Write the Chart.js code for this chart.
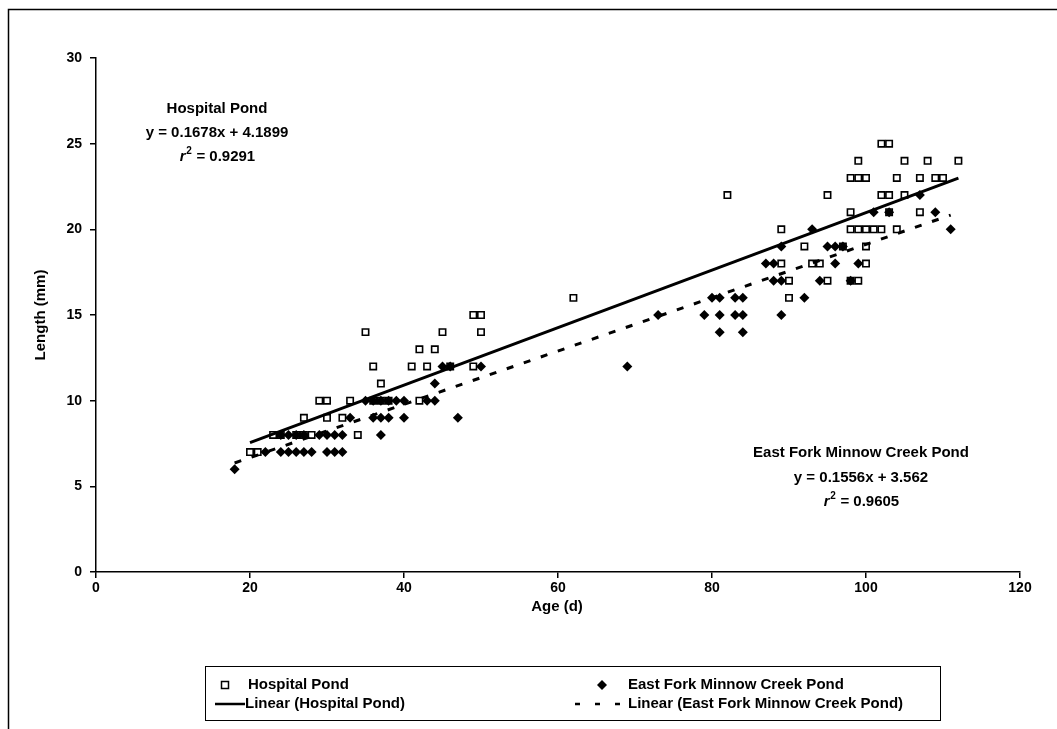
<!DOCTYPE html>
<html>
<head>
<meta charset="utf-8">
<script src="https://cdn.jsdelivr.net/npm/chart.js@4"></script>
<style>
  html, body { margin: 0; padding: 0; background: #fff; }
  #wrap { position: relative; width: 1057px; height: 729px; }
</style>
</head>
<body>
<div id="wrap"><canvas id="ageLength" width="1057" height="729"></canvas></div>
<script>
// Hospital Pond: age (d), length (mm)
const hospitalAge = [20, 21, 23, 24, 26, 27, 28, 27, 29, 30, 30, 32, 33, 34, 35, 36, 37, 36, 37, 38,
  41, 42, 42, 43, 44, 45, 46, 49, 49, 50, 50, 62, 82, 89, 89, 90, 90, 92, 93, 94,
  95, 95, 97, 98, 98, 99, 99, 100, 98, 99, 100, 101, 102, 98, 99, 100, 100, 102, 103, 102,
  103, 103, 104, 104, 105, 105, 107, 107, 108, 109, 110, 112];
const hospitalLen = [7, 7, 8, 8, 8, 8, 8, 9, 10, 10, 9, 9, 10, 8, 14, 12, 11, 10, 10, 10,
  12, 13, 10, 12, 13, 14, 12, 12, 15, 15, 14, 16, 22, 20, 18, 16, 17, 19, 18, 18,
  22, 17, 19, 21, 23, 24, 23, 23, 20, 20, 20, 20, 20, 17, 17, 19, 18, 25, 25, 22,
  22, 21, 23, 20, 24, 22, 23, 21, 24, 23, 23, 24];

// East Fork Minnow Creek Pond
const eastAge = [18, 22, 24, 25, 26, 27, 28, 30, 31, 32, 24, 25, 26, 27, 29, 30, 31, 32, 37, 33,
  36, 37, 38, 40, 35, 36, 37, 38, 39, 40, 43, 44, 44, 45, 46, 50, 47, 69, 73, 79,
  80, 81, 81, 81, 83, 84, 83, 84, 84, 87, 88, 88, 89, 89, 89, 92, 93, 94, 95, 96,
  97, 96, 98, 99, 101, 103, 107, 109, 111];
const eastLen = [6, 7, 7, 7, 7, 7, 7, 7, 7, 7, 8, 8, 8, 8, 8, 8, 8, 8, 8, 9,
  9, 9, 9, 9, 10, 10, 10, 10, 10, 10, 10, 10, 11, 12, 12, 12, 9, 12, 15, 15,
  16, 16, 15, 14, 16, 16, 15, 15, 14, 18, 18, 17, 17, 19, 15, 16, 20, 17, 19, 19,
  19, 18, 17, 18, 21, 21, 22, 21, 20];

// trend line fits: [slope, intercept], drawn across [first age, last age]
const hospitalFit = [0.1678, 4.1899];
const hospitalFitRange = [20, 112];
const eastFit = [0.1556, 3.562];
const eastFitRange = [18, 111];

const xTicks = [0, 20, 40, 60, 80, 100, 120];
const yTicks = [0, 5, 10, 15, 20, 25, 30];

const FONT = '"Liberation Sans", Arial, sans-serif';

const pts = (xs, ys) => xs.map((x, i) => ({ x: x, y: ys[i] }));
const fitLine = (fit, range) => range.map(x => ({ x: x, y: fit[0] * x + fit[1] }));

// frame, axis titles, equations and the legend box
const decorations = {
  id: 'decorations',
  afterDraw(chart) {
    const c = chart.ctx;
    c.save();
    c.strokeStyle = '#000';
    c.lineWidth = 1.5;
    c.beginPath();
    c.moveTo(8.5, 729);
    c.lineTo(8.5, 9.5);
    c.lineTo(1057, 9.5);
    c.stroke();

    c.fillStyle = '#000';
    c.font = 'bold 15px ' + FONT;
    c.textAlign = 'center';
    c.textBaseline = 'middle';
    c.fillText('Age (d)', 557, 607);
    c.save();
    c.translate(41, 315);
    c.rotate(-Math.PI / 2);
    c.fillText('Length (mm)', 0, 0);
    c.restore();

    // equations
    c.fillText('Hospital Pond', 217, 109);
    c.fillText('y = ' + hospitalFit[0] + 'x + ' + hospitalFit[1], 217, 133);
    c.fillText('East Fork Minnow Creek Pond', 861, 453);
    c.fillText('y = ' + eastFit[0] + 'x + ' + eastFit[1], 861, 478);
    const r2 = (txt, cx, cy) => {
      c.font = 'bold 15px ' + FONT;
      const w1 = c.measureText('r').width;
      c.font = 'bold 10px ' + FONT;
      const w2 = c.measureText('2').width;
      c.font = 'bold 15px ' + FONT;
      const w3 = c.measureText(txt).width;
      let x = cx - (w1 + w2 + w3) / 2;
      c.textAlign = 'left';
      c.font = 'italic bold 15px ' + FONT;
      c.fillText('r', x, cy);
      c.font = 'bold 10px ' + FONT;
      c.fillText('2', x + w1 + 0.5, cy - 6);
      c.font = 'bold 15px ' + FONT;
      c.fillText(txt, x + w1 + w2 + 1, cy);
      c.textAlign = 'center';
    };
    r2(' = 0.9291', 217, 157);
    r2(' = 0.9605', 861, 502);

    // legend
    c.lineWidth = 1;
    c.strokeRect(205.5, 666.5, 735, 54);
    c.font = 'bold 15px ' + FONT;
    c.textAlign = 'left';
    c.lineWidth = 1.5;
    c.strokeRect(221.5, 681.5, 7, 7);
    c.fillText('Hospital Pond', 248, 685);
    c.beginPath();
    c.moveTo(602, 680); c.lineTo(607, 685); c.lineTo(602, 690); c.lineTo(597, 685);
    c.closePath();
    c.fill();
    c.fillText('East Fork Minnow Creek Pond', 628, 685);
    c.lineWidth = 2.5;
    c.beginPath();
    c.moveTo(215, 704); c.lineTo(245, 704);
    c.stroke();
    c.fillText('Linear (Hospital Pond)', 245, 704);
    c.setLineDash([5, 15]);
    c.beginPath();
    c.moveTo(575, 704); c.lineTo(626, 704);
    c.stroke();
    c.setLineDash([]);
    c.fillText('Linear (East Fork Minnow Creek Pond)', 628, 704);
    c.restore();
  }
};

new Chart(document.getElementById('ageLength'), {
  type: 'scatter',
  data: {
    datasets: [
      {
        label: 'Linear (Hospital Pond)',
        type: 'line',
        data: fitLine(hospitalFit, hospitalFitRange),
        borderColor: '#000',
        borderWidth: 3,
        pointRadius: 0,
        fill: false,
        order: 0
      },
      {
        label: 'Linear (East Fork Minnow Creek Pond)',
        type: 'line',
        data: fitLine(eastFit, eastFitRange),
        borderColor: '#000',
        borderWidth: 3,
        borderDash: [7, 11],
        pointRadius: 0,
        fill: false,
        order: 0
      },
      {
        label: 'East Fork Minnow Creek Pond',
        data: pts(eastAge, eastLen),
        pointStyle: 'rectRot',
        pointRadius: 5,
        backgroundColor: '#000',
        borderColor: '#000',
        borderWidth: 0,
        order: 1
      },
      {
        label: 'Hospital Pond',
        data: pts(hospitalAge, hospitalLen),
        pointStyle: 'rect',
        pointRadius: 4.5,
        backgroundColor: '#fff',
        borderColor: '#000',
        borderWidth: 1.6,
        order: 2
      }
    ]
  },
  options: {
    responsive: false,
    animation: false,
    layout: { padding: { left: 0, top: 58, right: 37, bottom: 107 } },
    plugins: { legend: { display: false }, tooltip: { enabled: false } },
    scales: {
      x: {
        type: 'linear',
        min: 0,
        max: 120,
        afterFit: s => { s.height = 50; },
        afterBuildTicks: s => { s.ticks = xTicks.map(v => ({ value: v })); },
        grid: { drawOnChartArea: false, drawTicks: true, tickLength: 6, color: '#000', lineWidth: 1.5 },
        border: { color: '#000', width: 1.5 },
        ticks: { color: '#000', padding: 2, maxRotation: 0, font: { family: FONT, size: 14, weight: 'bold' } }
      },
      y: {
        min: 0,
        max: 30,
        afterFit: s => { s.width = 96; },
        afterBuildTicks: s => { s.ticks = yTicks.map(v => ({ value: v })); },
        grid: { drawOnChartArea: false, drawTicks: true, tickLength: 6, color: '#000', lineWidth: 1.5 },
        border: { color: '#000', width: 1.5 },
        ticks: { color: '#000', padding: 8, font: { family: FONT, size: 14, weight: 'bold' } }
      }
    }
  },
  plugins: [decorations]
});
</script>
</body>
</html>
